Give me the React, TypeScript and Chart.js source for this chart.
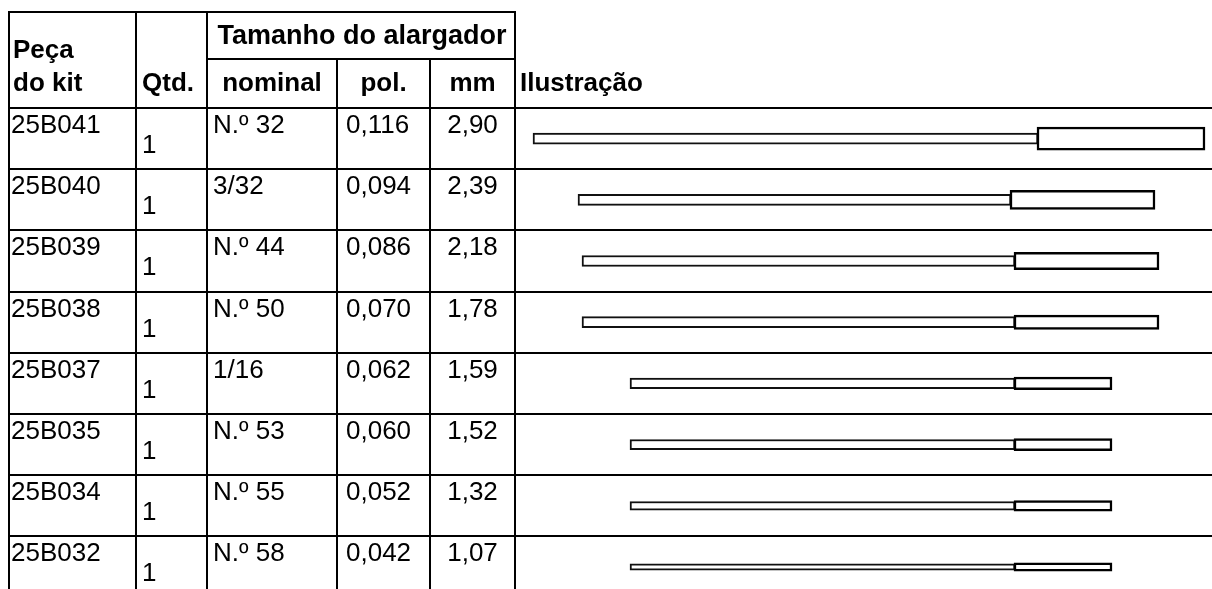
import React, { useEffect, useRef } from 'react';
import { Chart, registerables } from 'chart.js';

Chart.register(...registerables);

// ---- data ----
const partIds = ['25B041', '25B040', '25B039', '25B038', '25B037', '25B035', '25B034', '25B032'];
const quantities = ['1', '1', '1', '1', '1', '1', '1', '1'];
const nominalSizes = ['N.º 32', '3/32', 'N.º 44', 'N.º 50', '1/16', 'N.º 53', 'N.º 55', 'N.º 58'];
const inchSizes = ['0,116', '0,094', '0,086', '0,070', '0,062', '0,060', '0,052', '0,042'];
const mmSizes = ['2,90', '2,39', '2,18', '1,78', '1,59', '1,52', '1,32', '1,07'];

// illustration (drawing units along the reamer)
const shankStart = [18, 63, 67, 67, 115, 115, 115, 115];
const headStart = [522, 495, 499, 499, 499, 499, 499, 499];
const headEnd = [690, 640, 644, 644, 597, 597, 597, 597];

// header texts
const headPart = ['Peça', 'do kit'];
const headQty = 'Qtd.';
const headSize = 'Tamanho do alargador';
const headNominal = 'nominal';
const headInch = 'pol.';
const headMm = 'mm';
const headIllustration = 'Ilustração';

const mmValues = mmSizes.map((s) => parseFloat(s.replace(',', '.')));

const W = 1212;
const H = 600;
const FONT = '"Liberation Sans", Arial, Helvetica, sans-serif';
const FS = 26;

const colLeft = 9;
const colQty = 136;
const colNominal = 207;
const colInch = 337;
const colMm = 430;
const colIll = 515;
const headerTop = 12;
const subHeader = 59;
const headerBottom = 108;
const rowH = 61.2;

export default function App() {
  const ref = useRef<HTMLCanvasElement>(null);

  useEffect(() => {
    const canvas = ref.current;
    if (!canvas) return;

    const tablePlugin = {
      id: 'reamerTable',
      beforeDatasetsDraw(chart: any) {
        const ctx: CanvasRenderingContext2D = chart.ctx;
        const area = chart.chartArea;
        const yScale = chart.scales.y;
        const n = partIds.length;
        const band = (area.bottom - area.top) / n;
        ctx.save();
        ctx.strokeStyle = '#000';
        ctx.lineWidth = 2;
        const hline = (y: number, x1: number, x2: number) => {
          ctx.beginPath();
          ctx.moveTo(x1, y);
          ctx.lineTo(x2, y);
          ctx.stroke();
        };
        const vline = (x: number, y1: number, y2: number) => {
          ctx.beginPath();
          ctx.moveTo(x, y1);
          ctx.lineTo(x, y2);
          ctx.stroke();
        };
        hline(headerTop, colLeft - 1, colIll + 1);
        hline(subHeader, colNominal, colIll);
        hline(area.top, colLeft - 1, W);
        for (let i = 1; i <= n; i++) hline(Math.round(area.top + band * i), colLeft - 1, W);
        vline(colLeft, headerTop - 1, H);
        vline(colQty, headerTop, H);
        vline(colNominal, headerTop, H);
        vline(colIll, headerTop - 1, H);
        vline(colInch, subHeader, H);
        vline(colMm, subHeader, H);

        ctx.fillStyle = '#000';
        ctx.textBaseline = 'alphabetic';
        // header
        ctx.font = `bold ${FS}px ${FONT}`;
        ctx.textAlign = 'left';
        ctx.fillText(headPart[0], colLeft + 4, 58);
        ctx.fillText(headPart[1], colLeft + 4, 91);
        ctx.fillText(headQty, colQty + 6, 91);
        ctx.fillText(headIllustration, colIll + 5, 91);
        ctx.textAlign = 'center';
        ctx.font = `bold ${FS + 1}px ${FONT}`;
        ctx.fillText(headSize, (colNominal + colIll) / 2 + 1, 44);
        ctx.font = `bold ${FS}px ${FONT}`;
        ctx.fillText(headNominal, (colNominal + colInch) / 2, 91);
        ctx.fillText(headInch, (colInch + colMm) / 2, 91);
        ctx.fillText(headMm, (colMm + colIll) / 2, 91);

        // body
        ctx.font = `${FS}px ${FONT}`;
        partIds.forEach((id, i) => {
          const top = yScale.getPixelForValue(i) - band / 2;
          ctx.textAlign = 'left';
          ctx.fillText(id, colLeft + 2, top + 25);
          ctx.fillText(quantities[i], colQty + 6, top + 45);
          ctx.fillText(nominalSizes[i], colNominal + 6, top + 25);
          ctx.fillText(inchSizes[i], colInch + 9, top + 25);
          ctx.textAlign = 'center';
          ctx.fillText(mmSizes[i], (colMm + colIll) / 2, top + 25);
        });
        ctx.restore();
      },
    };

    const datasets: any[] = [];
    partIds.forEach((_, i) => {
      const only = (v: number[]) => partIds.map((__, j) => (j === i ? v : null));
      const headT = mmValues[i] * 8;
      datasets.push({
        label: 'cabeça ' + partIds[i],
        data: only([headStart[i], headEnd[i]]),
        barThickness: headT,
        backgroundColor: '#ffffff',
        borderColor: '#000000',
        borderWidth: 2.5,
        borderSkipped: false,
        grouped: false,
        order: 1,
      });
      datasets.push({
        label: 'haste ' + partIds[i],
        data: only([shankStart[i], headStart[i] + 1]),
        barThickness: Math.min(11, headT - 2),
        backgroundColor: '#ffffff',
        borderColor: '#111111',
        borderWidth: 2,
        borderSkipped: false,
        grouped: false,
        order: 2,
      });
    });

    const chart = new Chart(canvas, {
      type: 'bar',
      data: { labels: partIds, datasets },
      options: {
        indexAxis: 'y',
        responsive: false,
        animation: false,
        devicePixelRatio: 1,
        layout: {
          padding: { left: colIll, right: 0, top: headerBottom, bottom: H - (headerBottom + rowH * partIds.length) },
        },
        scales: {
          x: { display: false, min: 0, max: W - colIll },
          y: { display: false },
        },
        plugins: { legend: { display: false }, tooltip: { enabled: false } },
      },
      plugins: [tablePlugin],
    } as any);
    return () => chart.destroy();
  }, []);

  return (
    <div style={{ position: 'fixed', left: 0, top: 0, width: W, height: 589, overflow: 'hidden', background: '#fff' }}>
      <canvas ref={ref} width={W} height={H} style={{ display: 'block', width: W, height: H }} />
    </div>
  );
}
